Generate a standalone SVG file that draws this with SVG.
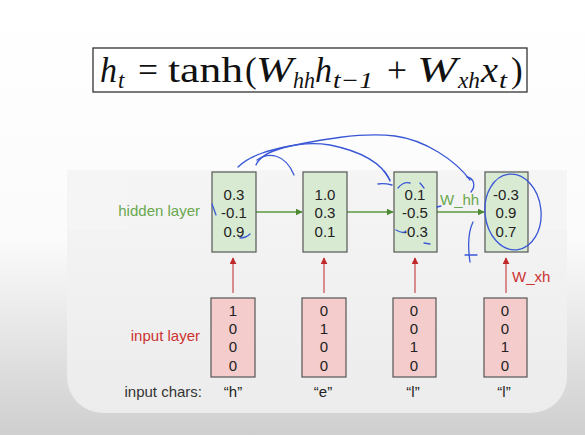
<svg xmlns="http://www.w3.org/2000/svg" width="585" height="435" viewBox="0 0 585 435">
<defs>
<linearGradient id="bg" x1="0" y1="0" x2="0" y2="1">
<stop offset="0" stop-color="#ffffff"/>
<stop offset="0.55" stop-color="#fbfbfb"/>
<stop offset="1" stop-color="#cfcfcf"/>
</linearGradient>
<linearGradient id="panel" x1="0" y1="0" x2="0" y2="1">
<stop offset="0" stop-color="#f5f5f5"/>
<stop offset="1" stop-color="#ececec"/>
</linearGradient>
<marker id="ag" viewBox="0 0 10 10" refX="9" refY="5" markerWidth="7" markerHeight="7" orient="auto" markerUnits="userSpaceOnUse">
<path d="M0,0 L10,5 L0,10 z" fill="#4e8a34"/>
</marker>
<marker id="ar" viewBox="0 0 10 10" refX="9" refY="5" markerWidth="7" markerHeight="7" orient="auto" markerUnits="userSpaceOnUse">
<path d="M0,0 L10,5 L0,10 z" fill="#c0282a"/>
</marker>
</defs>
<style>
.hid{fill:#d9ead3;stroke:#555;stroke-width:1.2}
.inp{fill:#f4cccc;stroke:#555;stroke-width:1.2}
.val{font-family:"Liberation Sans",Arial,sans-serif;font-size:15px;fill:#222;text-anchor:middle}
.lab{font-family:"Liberation Sans",Arial,sans-serif;font-size:15px}
.eq{font-family:"Liberation Serif","Times New Roman",serif;fill:#111}
.it{font-style:italic}
.g{stroke:#5a9a3f;stroke-width:1.3;fill:none}
.r{stroke:#d06a6a;stroke-width:1.5;fill:none}
.ink{stroke:#3a58d6;stroke-width:1.3;fill:none;stroke-linecap:round}
</style>
<rect x="0" y="0" width="585" height="435" fill="url(#bg)"/>
<rect x="67" y="170" width="500" height="243" rx="36" fill="url(#panel)"/>
<rect x="67" y="170" width="60" height="60" fill="#f5f5f5"/>
<rect x="507" y="170" width="60" height="60" fill="#f5f5f5"/>

<g id="formula">
<rect x="93" y="48" width="434" height="44" fill="#fff" stroke="#333" stroke-width="1.3"/>
<text class="eq it" x="100" y="82" font-size="35" textLength="17" lengthAdjust="spacingAndGlyphs">h</text>
<text class="eq it" x="118" y="88" font-size="23">t</text>
<text class="eq" x="138" y="82" font-size="35" textLength="20" lengthAdjust="spacingAndGlyphs">=</text>
<text class="eq" x="168" y="82" font-size="35" textLength="75" lengthAdjust="spacingAndGlyphs">tanh</text>
<text class="eq" x="245" y="82" font-size="35">(</text>
<text class="eq it" x="256" y="82" font-size="35" textLength="37" lengthAdjust="spacingAndGlyphs">W</text>
<text class="eq it" x="293" y="88" font-size="23" textLength="22" lengthAdjust="spacingAndGlyphs">hh</text>
<text class="eq it" x="315" y="82" font-size="35" textLength="17" lengthAdjust="spacingAndGlyphs">h</text>
<text class="eq it" x="333" y="88" font-size="23" textLength="40" lengthAdjust="spacingAndGlyphs">t−1</text>
<text class="eq" x="387" y="82" font-size="35" textLength="20" lengthAdjust="spacingAndGlyphs">+</text>
<text class="eq it" x="417" y="82" font-size="35" textLength="40" lengthAdjust="spacingAndGlyphs">W</text>
<text class="eq it" x="458" y="88" font-size="23" textLength="22" lengthAdjust="spacingAndGlyphs">xh</text>
<text class="eq it" x="481" y="82" font-size="35" textLength="17" lengthAdjust="spacingAndGlyphs">x</text>
<text class="eq it" x="499" y="88" font-size="23" textLength="8" lengthAdjust="spacingAndGlyphs">t</text>
<text class="eq" x="511" y="82" font-size="35">)</text>
</g>

<g id="labels">
<text class="lab" x="200" y="216" text-anchor="end" fill="#6aa84f">hidden layer</text>
<text class="lab" x="200" y="341" text-anchor="end" fill="#cc3333">input layer</text>
<text class="lab" x="202" y="397" text-anchor="end" fill="#333">input chars:</text>
<text class="lab" x="440" y="205" fill="#6aa84f">W_hh</text>
<text class="lab" x="512" y="282" fill="#cc3333">W_xh</text>
</g>

<g id="connectors">
<line class="g" x1="256" y1="212" x2="302" y2="212" marker-end="url(#ag)"/>
<line class="g" x1="347" y1="212" x2="393" y2="212" marker-end="url(#ag)"/>
<line class="g" x1="437" y1="212" x2="484" y2="212" marker-end="url(#ag)"/>
<line class="r" x1="233" y1="293" x2="233" y2="258" marker-end="url(#ar)"/>
<line class="r" x1="324" y1="293" x2="324" y2="258" marker-end="url(#ar)"/>
<line class="r" x1="415" y1="293" x2="415" y2="258" marker-end="url(#ar)"/>
<line class="r" x1="506" y1="293" x2="506" y2="258" marker-end="url(#ar)"/>
</g>

<g id="h1"><rect class="hid" x="212" y="172" width="44" height="80"/>
<text class="val" x="234" y="200">0.3</text><text class="val" x="234" y="218">-0.1</text><text class="val" x="234" y="237">0.9</text></g>
<g id="h2"><rect class="hid" x="303" y="172" width="44" height="80"/>
<text class="val" x="325" y="200">1.0</text><text class="val" x="325" y="218">0.3</text><text class="val" x="325" y="237">0.1</text></g>
<g id="h3"><rect class="hid" x="394" y="172" width="43" height="80"/>
<text class="val" x="415" y="200">0.1</text><text class="val" x="415" y="218">-0.5</text><text class="val" x="415" y="237">-0.3</text></g>
<g id="h4"><rect class="hid" x="485" y="172" width="43" height="80"/>
<text class="val" x="506" y="200">-0.3</text><text class="val" x="506" y="218">0.9</text><text class="val" x="506" y="237">0.7</text></g>

<g id="x1"><rect class="inp" x="211" y="298" width="44" height="79"/>
<text class="val" x="233" y="316">1</text><text class="val" x="233" y="334">0</text><text class="val" x="233" y="352">0</text><text class="val" x="233" y="371">0</text></g>
<g id="x2"><rect class="inp" x="302" y="298" width="44" height="79"/>
<text class="val" x="324" y="316">0</text><text class="val" x="324" y="334">1</text><text class="val" x="324" y="352">0</text><text class="val" x="324" y="371">0</text></g>
<g id="x3"><rect class="inp" x="393" y="298" width="43" height="79"/>
<text class="val" x="414" y="316">0</text><text class="val" x="414" y="334">0</text><text class="val" x="414" y="352">1</text><text class="val" x="414" y="371">0</text></g>
<g id="x4"><rect class="inp" x="484" y="298" width="43" height="79"/>
<text class="val" x="505" y="316">0</text><text class="val" x="505" y="334">0</text><text class="val" x="505" y="352">1</text><text class="val" x="505" y="371">0</text></g>

<g id="chars">
<text class="val" x="233" y="397">“h”</text>
<text class="val" x="323" y="397">“e”</text>
<text class="val" x="413" y="397">“l”</text>
<text class="val" x="504" y="397">“l”</text>
</g>

<g id="ink">
<path class="ink" d="M238,167 C250,155 270,150 290,146 C320,140 360,132 395,136 C425,140 455,160 470,180"/>
<path class="ink" d="M467,177 C474,178 476,186 471,192"/>
<path class="ink" d="M256,165 C262,150 300,140 330,145 C355,150 380,160 390,180"/>
<path class="ink" d="M384,171 C387,175 389,178 390,181 M378,184 C384,183 388,184 392,185"/>
<path class="ink" d="M257,160 C268,152 285,153 294,175"/>
<ellipse class="ink" cx="513" cy="212" rx="28" ry="38" transform="rotate(-6 513 212)"/>
<path class="ink" d="M212,204 L216,215"/>
<path class="ink" d="M240,238 C244,238 248,236 250,234"/>
<path class="ink" d="M398,188 C402,183 406,182 410,183 M420,183 L424,188"/>
<path class="ink" d="M437,207 L441,206 M396,230 C402,233 404,233 406,231 M424,243 L430,244"/>
<path class="ink" d="M473,222 C468,232 468,248 470,262 M465,255 L477,255"/>
</g>
</svg>
